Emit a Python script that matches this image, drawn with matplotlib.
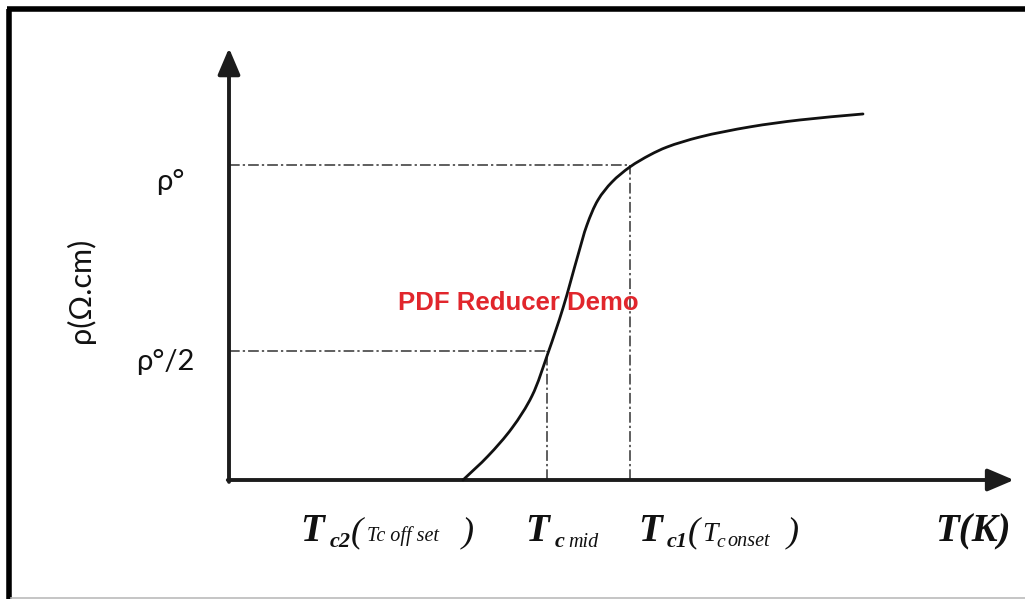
import numpy as np
import matplotlib
matplotlib.use("Agg")
import matplotlib.pyplot as plt
from matplotlib.path import Path
from matplotlib.patches import PathPatch
from matplotlib.lines import Line2D

# ---- data ----
T_curve = [2.34, 2.59, 2.83, 3.03, 3.19, 3.34, 3.49, 3.58, 3.69, 3.83, 4.01,
           4.21, 4.38, 4.71, 5.21, 5.71, 6.34]
rho_curve = [0.0, 0.076, 0.165, 0.267, 0.403, 0.546, 0.714, 0.810, 0.889, 0.946, 0.994,
             1.032, 1.057, 1.089, 1.121, 1.143, 1.162]
T_mid = 3.18          # T_c mid
T_onset = 4.01        # T_c1 (onset)
rho_0 = 1.0           # rho°
rho_half = 0.41       # rho°/2 level as drawn
y_tick_labels = ["ρ°", "ρ°/2"]
y_label = "ρ(Ω.cm)"
watermark = "PDF Reducer Demo"

W, H = 1025, 599
XS, YS = 100.0, 315.0   # pixels per data unit
fig = plt.figure(figsize=(W / 100, H / 100), dpi=100)
ax = fig.add_axes([0, 0, 1, 1])
ax.set_xlim(-2.29, 7.96)
ax.set_ylim((480 - 599) / YS, 480 / YS)
ax.axis("off")


def P(px, py):
    return px / W, 1 - py / H


# frame
fig.add_artist(Line2D([9 / W, 9 / W], [0, 1 - 9 / H], transform=fig.transFigure,
                      color="black", lw=4.0, solid_capstyle="butt"))
fig.add_artist(Line2D([7 / W, 1], [1 - 9 / H, 1 - 9 / H], transform=fig.transFigure,
                      color="black", lw=4.0, solid_capstyle="butt"))
fig.add_artist(Line2D([11 / W, 1], [1 - 598 / H, 1 - 598 / H], transform=fig.transFigure,
                      color="#bbbbbb", lw=1.2))

# axes arrows
axcol = "#1c1c1c"
astyle = "-|>,head_length=0.8,head_width=0.34"
ax.annotate("", xy=(7.85, 0), xytext=(-0.012, 0),
            arrowprops=dict(arrowstyle=astyle, lw=2.8, color=axcol, mutation_scale=20,
                            shrinkA=0, shrinkB=0))
ax.annotate("", xy=(0, 1.371), xytext=(0, -0.006),
            arrowprops=dict(arrowstyle=astyle, lw=2.8, color=axcol, mutation_scale=20,
                            shrinkA=0, shrinkB=0))

# guide lines (dash-dot)
dd = dict(color="#333333", lw=1.1, linestyle=(0, (7, 2, 1.5, 2)))
ax.plot([0, T_onset], [rho_0, rho_0], **dd)
ax.plot([T_onset, T_onset], [0, rho_0], **dd)
ax.plot([0, T_mid], [rho_half, rho_half], **dd)
ax.plot([T_mid, T_mid], [0, rho_half], **dd)

# watermark (under the curve)
fig.text(*P(518, 303), watermark, color="#e1262c", fontsize=18.5, fontweight="bold",
         family="Liberation Sans", ha="center", va="center", zorder=1)

# smooth curve through the read points (centripetal Catmull-Rom -> cubic Bezier)
pts = np.column_stack([np.array(T_curve) * XS, np.array(rho_curve) * YS])
ext = np.vstack([2 * pts[0] - pts[1], pts, 2 * pts[-1] - pts[-2]])
knots = [0.0]
for i in range(len(ext) - 1):
    knots.append(knots[-1] + np.linalg.norm(ext[i + 1] - ext[i]) ** 0.5)
verts = [tuple(pts[0])]
codes = [Path.MOVETO]
for i in range(1, len(ext) - 2):
    P0, P1, P2, P3 = ext[i - 1], ext[i], ext[i + 1], ext[i + 2]
    t0, t1, t2, t3 = knots[i - 1], knots[i], knots[i + 1], knots[i + 2]
    m1 = (P1 - P0) / (t1 - t0) - (P2 - P0) / (t2 - t0) + (P2 - P1) / (t2 - t1)
    m2 = (P2 - P1) / (t2 - t1) - (P3 - P1) / (t3 - t1) + (P3 - P2) / (t3 - t2)
    c1 = P1 + m1 * (t2 - t1) / 3.0
    c2 = P2 - m2 * (t2 - t1) / 3.0
    verts += [tuple(c1), tuple(c2), tuple(P2)]
    codes += [Path.CURVE4] * 3
verts = [(vx / XS, vy / YS) for vx, vy in verts]
ax.add_patch(PathPatch(Path(verts, codes), fill=False, lw=2.0, edgecolor="#111111",
                       zorder=5, capstyle="round"))

# y tick labels and y label
sans = "Lato"
fig.text(*P(170, 182), y_tick_labels[0], fontsize=21, family=sans, ha="center",
         va="center", color="#111111")
fig.text(*P(165, 362), y_tick_labels[1], fontsize=21, family=sans, ha="center",
         va="center", color="#111111")
fig.text(*P(80, 290), y_label, fontsize=22, family=sans, ha="center", va="center",
         rotation=90, color="#111111")

# x labels (serif bold italic)
serif = "Liberation Serif"
big = dict(family=serif, fontsize=28, fontweight="bold", style="italic",
           color="#111111", va="baseline", ha="left")
sub = dict(family=serif, fontsize=16, fontweight="bold", style="italic",
           color="#111111", va="baseline", ha="left")
small = dict(family=serif, fontsize=14.5, style="italic",
             color="#111111", va="baseline", ha="left")
paren = dict(family=serif, fontsize=26, style="italic",
             color="#111111", va="baseline", ha="left")

# T_c2 ( T_c off set )
fig.text(*P(300, 541), "T", **big)
fig.text(*P(330, 547), "c2", **sub)
fig.text(*P(351, 541), "(", **paren)
fig.text(*P(367, 541), "Tc off set", **small)
fig.text(*P(462, 541), ")", **paren)
# T_c mid
fig.text(*P(525, 541), "T", **big)
fig.text(*P(555, 547), "c", **sub)
fig.text(*P(568, 547), "mid", **small)
# T_c1 ( T_c onset )
fig.text(*P(638, 541), "T", **big)
fig.text(*P(667, 547), "c1", **sub)
fig.text(*P(688, 541), "(", **paren)
fig.text(*P(702, 541), "T", **dict(big, fontsize=20, fontweight="normal"))
fig.text(*P(716, 547), "c", **dict(small, fontsize=14))
fig.text(*P(727, 546), "onset", **small)
fig.text(*P(787, 541), ")", **paren)
# T(K)
fig.text(*P(935, 541), "T(K)", **big)

fig.savefig("out.png", dpi=100, facecolor="white")
